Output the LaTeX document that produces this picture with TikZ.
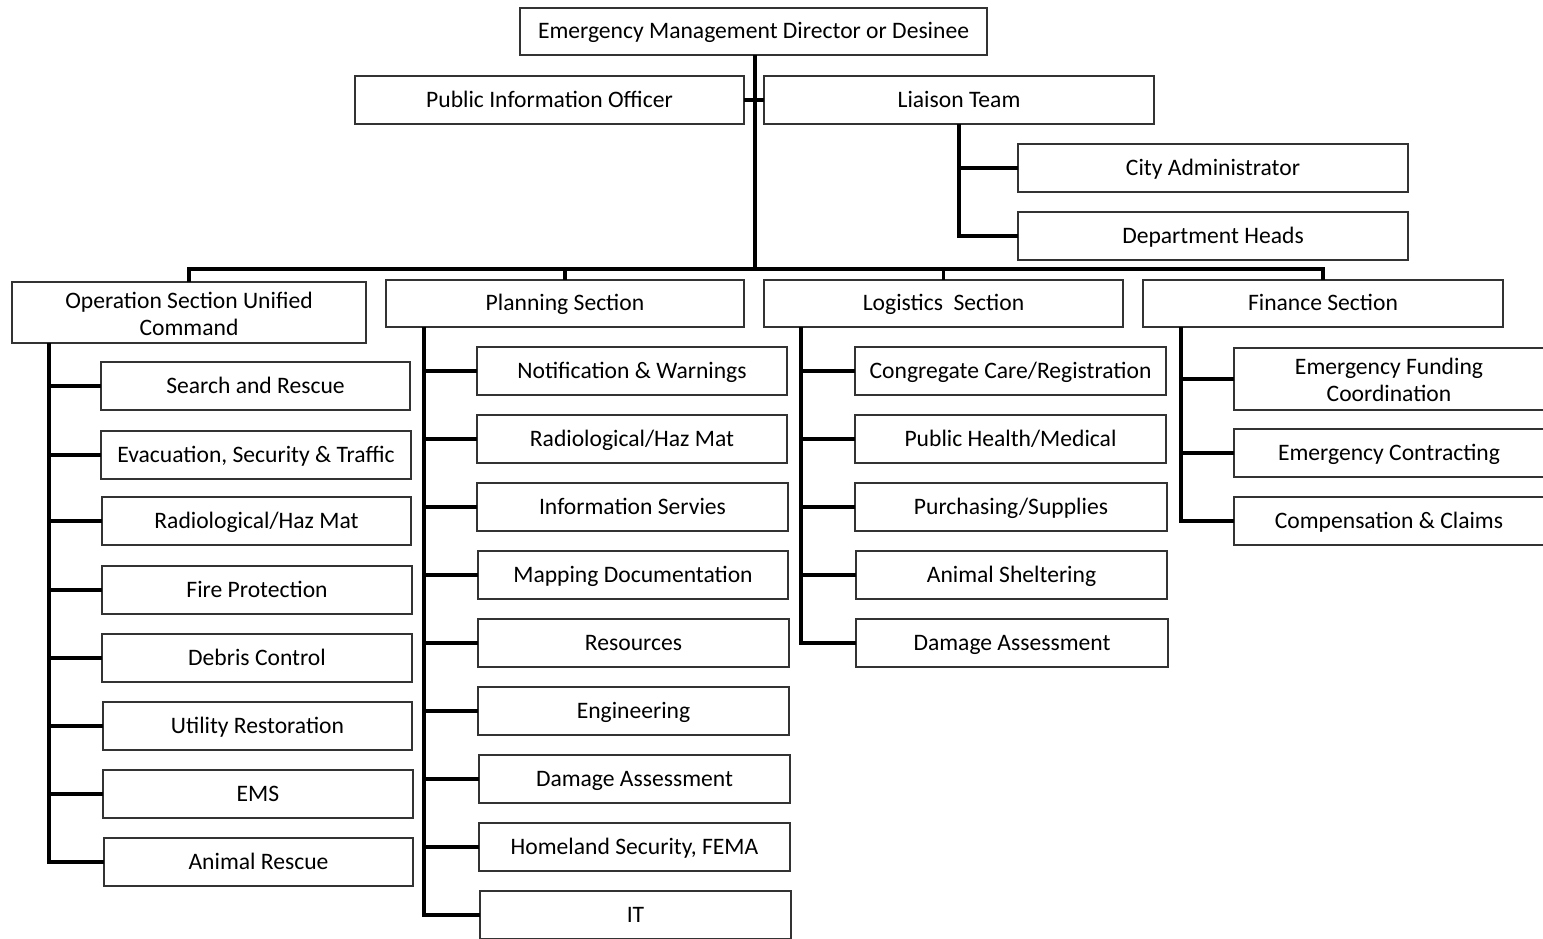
\documentclass[tikz,border=0pt]{standalone}
\usepackage{fontspec}
\setmainfont{Carlito}
\tikzset{
  box/.style={draw=black!80, line width=0.6pt, fill=white, inner sep=0pt, outer sep=0pt, align=center, font=\fontsize{11.8}{13.3}\selectfont},
  conn/.style={line width=1.6pt, black}
}
\newcommand\tA{\rule{0pt}{10pt}}
\newcommand\tB{\rule[-2.8pt]{0pt}{2.8pt}}
\newcommand\tC{\rule[-0.8pt]{0pt}{0.8pt}}
\newcommand\bx[6]{\node[box, minimum width={(#4-#2)*0.5pt}, minimum height={(#5-#3)*0.5pt}] (#1) at ({(#2+#4)/2},{(#3+#5)/2}) {\tA #6\tB};}
\newcommand\bxt[7]{\node[box, minimum width={(#4-#2)*0.5pt}, minimum height={(#5-#3)*0.5pt}] (#1) at ({(#2+#4)/2},{(#3+#5)/2}) {\tA #6\\#7\tC};}
\begin{document}
\begin{tikzpicture}[x=0.5pt,y=-0.5pt]
\useasboundingbox (0,0) rectangle (1543,938);
\coordinate (busy) at (0,269);
% top
\bx{dir}{520}{8}{987}{55}{Emergency Management Director or Desinee}
\bx{pio}{355}{76}{744}{124}{Public Information Officer}
\bx{lia}{764}{76}{1154}{124}{Liaison Team}
\bx{city}{1018}{144}{1408}{192}{City Administrator}
\bx{dept}{1018}{212}{1408}{260}{Department Heads}
% sections
\bxt{ops}{12}{282}{366}{343}{Operation Section Unified}{Command}
\bx{plan}{386}{280}{744}{327}{Planning Section}
\bx{log}{764}{280}{1123}{327}{Logistics\ \ Section}
\bx{fin}{1143}{280}{1503}{327}{Finance Section}
% ops children
\bx{o1}{101}{362}{410}{410}{Search and Rescue}
\bx{o2}{101}{431}{411}{479}{Evacuation, Security \& Traffic}
\bx{o3}{102}{497}{411}{545}{Radiological/Haz Mat}
\bx{o4}{102}{566}{412}{614}{Fire Protection}
\bx{o5}{102}{634}{412}{682}{Debris Control}
\bx{o6}{103}{702}{412}{750}{Utility Restoration}
\bx{o7}{103}{770}{413}{818}{EMS}
\bx{o8}{104}{838}{413}{886}{Animal Rescue}
% planning children
\bx{p1}{477}{347}{787}{395}{Notification \& Warnings}
\bx{p2}{477}{415}{787}{463}{Radiological/Haz Mat}
\bx{p3}{477}{483}{788}{531}{Information Servies}
\bx{p4}{478}{551}{788}{599}{Mapping Documentation}
\bx{p5}{478}{619}{789}{667}{Resources}
\bx{p6}{478}{687}{789}{735}{Engineering}
\bx{p7}{479}{755}{790}{803}{Damage Assessment}
\bx{p8}{479}{823}{790}{871}{Homeland Security, FEMA}
\bx{p9}{480}{891}{791}{939}{IT}
% logistics children
\bx{l1}{855}{347}{1166}{395}{Congregate Care/Registration}
\bx{l2}{855}{415}{1166}{463}{Public Health/Medical}
\bx{l3}{855}{483}{1167}{531}{Purchasing/Supplies}
\bx{l4}{856}{551}{1167}{599}{Animal Sheltering}
\bx{l5}{856}{619}{1168}{667}{Damage Assessment}
% finance children
\bxt{f1}{1234}{348}{1544}{410}{Emergency Funding}{Coordination}
\bx{f2}{1234}{429}{1544}{477}{Emergency Contracting}
\bx{f3}{1234}{497}{1544}{545}{Compensation \& Claims}
% connectors top
\coordinate (trunk) at (755,55);
\draw[conn] (trunk) -- (trunk |- busy);
\draw[conn] (pio.east) -- (lia.west);
\coordinate (liaT) at (959,124);
\draw[conn] (liaT) |- (city.west);
\draw[conn] (liaT) |- (dept.west);
% bus
\draw[conn] (ops.north) -- (ops.north |- busy) -- (fin.north |- busy) -- (fin.north);
\draw[conn] (plan.north) -- (plan.north |- busy);
\draw[conn] (log.north) -- (log.north |- busy);
% children
\coordinate (opsT) at (49,343);
\foreach \c in {o1,o2,o3,o4,o5,o6,o7,o8} \draw[conn] (opsT) |- (\c.west);
\coordinate (planT) at (424,327);
\foreach \c in {p1,p2,p3,p4,p5,p6,p7,p8,p9} \draw[conn] (planT) |- (\c.west);
\coordinate (logT) at (801,327);
\foreach \c in {l1,l2,l3,l4,l5} \draw[conn] (logT) |- (\c.west);
\coordinate (finT) at (1181,327);
\foreach \c in {f1,f2,f3} \draw[conn] (finT) |- (\c.west);
\end{tikzpicture}
\end{document}
